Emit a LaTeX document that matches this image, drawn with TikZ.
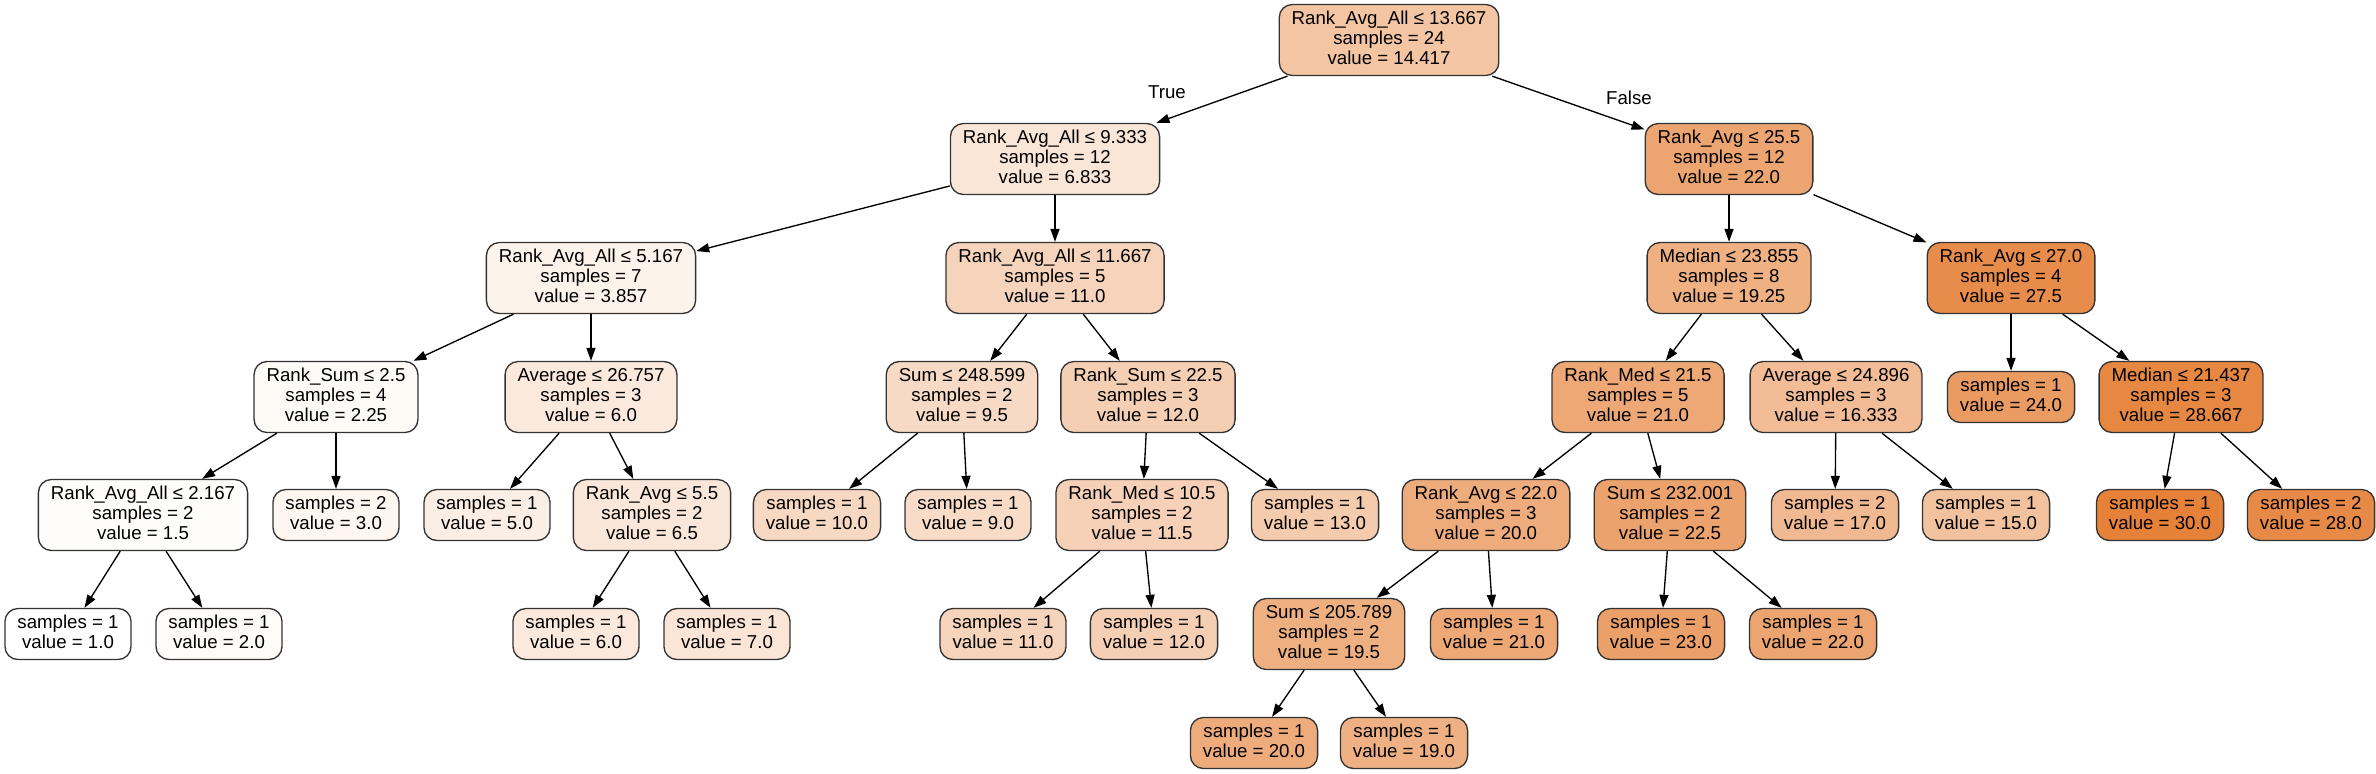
\documentclass[tikz,border=0pt]{standalone}
\usepackage{fontspec}
\setmainfont{Liberation Sans}
\usetikzlibrary{arrows.meta}
\definecolor{orng}{RGB}{229,129,57}
\newcommand{\tri}[3]{\strut #1\\#2\\#3\strut}
\newcommand{\duo}[2]{\strut #1\\#2\strut}
\begin{document}
\begin{tikzpicture}[x=0.5pt,y=-0.5pt,
  tn/.style={draw=black!80, line width=0.67pt, rounded corners=6.5pt, align=center,
    inner xsep=6.25pt, inner ysep=0pt, font=\fontsize{9.33}{10}\selectfont},
  split/.style={tn, minimum height=35.5pt},
  leaf/.style={tn, minimum height=25.5pt},
  edge/.style={-{Triangle[length=6.5pt,width=4.5pt]}, line width=0.67pt},
  lbl/.style={font=\fontsize{9.33}{10}\selectfont, inner sep=0pt}]
\useasboundingbox (0,0) rectangle (2376,773);
% level 0
\node[split, fill=orng!46.3] (root) at (1389,40) {\tri{Rank\_Avg\_All ≤ 13.667}{samples = 24}{value = 14.417}};
% level 1
\node[split, fill=orng!20.1] (A) at (1055,159) {\tri{Rank\_Avg\_All ≤ 9.333}{samples = 12}{value = 6.833}};
\node[split, fill=orng!72.4] (B) at (1729,159) {\tri{Rank\_Avg ≤ 25.5}{samples = 12}{value = 22.0}};
% level 2
\node[split, fill=orng!9.85] (C) at (591,278) {\tri{Rank\_Avg\_All ≤ 5.167}{samples = 7}{value = 3.857}};
\node[split, fill=orng!34.5] (D) at (1055,278) {\tri{Rank\_Avg\_All ≤ 11.667}{samples = 5}{value = 11.0}};
\node[split, fill=orng!62.9] (E) at (1729,278) {\tri{Median ≤ 23.855}{samples = 8}{value = 19.25}};
\node[split, fill=orng!91.4] (F) at (2011,278) {\tri{Rank\_Avg ≤ 27.0}{samples = 4}{value = 27.5}};
% level 3
\node[split, fill=orng!4.3] (G) at (336,397) {\tri{Rank\_Sum ≤ 2.5}{samples = 4}{value = 2.25}};
\node[split, fill=orng!17.2] (H) at (591,397) {\tri{Average ≤ 26.757}{samples = 3}{value = 6.0}};
\node[split, fill=orng!29.3] (I) at (962,397) {\tri{Sum ≤ 248.599}{samples = 2}{value = 9.5}};
\node[split, fill=orng!37.9] (J) at (1148,397) {\tri{Rank\_Sum ≤ 22.5}{samples = 3}{value = 12.0}};
\node[split, fill=orng!69.0] (K) at (1638,397) {\tri{Rank\_Med ≤ 21.5}{samples = 5}{value = 21.0}};
\node[split, fill=orng!52.9] (L) at (1836,397) {\tri{Average ≤ 24.896}{samples = 3}{value = 16.333}};
\node[leaf, fill=orng!79.3] (M) at (2011,397) {\duo{samples = 1}{value = 24.0}};
\node[split, fill=orng!95.4] (N) at (2181,397) {\tri{Median ≤ 21.437}{samples = 3}{value = 28.667}};
% level 4
\node[split, fill=orng!1.7] (O) at (143,515) {\tri{Rank\_Avg\_All ≤ 2.167}{samples = 2}{value = 1.5}};
\node[leaf, fill=orng!6.9] (P) at (336,515) {\duo{samples = 2}{value = 3.0}};
\node[leaf, fill=orng!13.8] (Q) at (487,515) {\duo{samples = 1}{value = 5.0}};
\node[split, fill=orng!19.0] (R) at (652,515) {\tri{Rank\_Avg ≤ 5.5}{samples = 2}{value = 6.5}};
\node[leaf, fill=orng!31.0] (S) at (817,515) {\duo{samples = 1}{value = 10.0}};
\node[leaf, fill=orng!27.6] (T) at (968,515) {\duo{samples = 1}{value = 9.0}};
\node[split, fill=orng!36.2] (U) at (1142,515) {\tri{Rank\_Med ≤ 10.5}{samples = 2}{value = 11.5}};
\node[leaf, fill=orng!41.4] (V) at (1315,515) {\duo{samples = 1}{value = 13.0}};
\node[split, fill=orng!65.5] (W) at (1486,515) {\tri{Rank\_Avg ≤ 22.0}{samples = 3}{value = 20.0}};
\node[split, fill=orng!74.1] (X) at (1670,515) {\tri{Sum ≤ 232.001}{samples = 2}{value = 22.5}};
\node[leaf, fill=orng!55.2] (Y) at (1835,515) {\duo{samples = 2}{value = 17.0}};
\node[leaf, fill=orng!48.3] (Z) at (1986,515) {\duo{samples = 1}{value = 15.0}};
\node[leaf, fill=orng] (AA) at (2160,515) {\duo{samples = 1}{value = 30.0}};
\node[leaf, fill=orng!93.1] (AB) at (2311,515) {\duo{samples = 2}{value = 28.0}};
% level 5
\node[leaf, fill=white] (a1) at (68,634) {\duo{samples = 1}{value = 1.0}};
\node[leaf, fill=orng!3.4] (a2) at (219,634) {\duo{samples = 1}{value = 2.0}};
\node[leaf, fill=orng!17.2] (r1) at (576,634) {\duo{samples = 1}{value = 6.0}};
\node[leaf, fill=orng!20.7] (r2) at (727,634) {\duo{samples = 1}{value = 7.0}};
\node[leaf, fill=orng!34.5] (u1) at (1003,634) {\duo{samples = 1}{value = 11.0}};
\node[leaf, fill=orng!37.9] (u2) at (1154,634) {\duo{samples = 1}{value = 12.0}};
\node[split, fill=orng!63.8] (w1) at (1329,634) {\tri{Sum ≤ 205.789}{samples = 2}{value = 19.5}};
\node[leaf, fill=orng!69.0] (w2) at (1494,634) {\duo{samples = 1}{value = 21.0}};
\node[leaf, fill=orng!75.9] (x1) at (1661,634) {\duo{samples = 1}{value = 23.0}};
\node[leaf, fill=orng!72.4] (x2) at (1813,634) {\duo{samples = 1}{value = 22.0}};
% level 6
\node[leaf, fill=orng!65.5] (s1) at (1254,743) {\duo{samples = 1}{value = 20.0}};
\node[leaf, fill=orng!62.1] (s2) at (1404,743) {\duo{samples = 1}{value = 19.0}};
% edge labels
\node[lbl] (ltrue) at (1167,92) {True};
\node[lbl] (lfalse) at (1629,98) {False};
% edges
\foreach \p/\c in {root/A, root/B, A/C, A/D, B/E, B/F, C/G, C/H, D/I, D/J, E/K, E/L, F/M, F/N,
  G/O, G/P, H/Q, H/R, I/S, I/T, J/U, J/V, K/W, K/X, L/Y, L/Z, N/AA, N/AB,
  O/a1, O/a2, R/r1, R/r2, U/u1, U/u2, W/w1, W/w2, X/x1, X/x2, w1/s1, w1/s2}
  \draw[edge] (\p) -- (\c);
\end{tikzpicture}
\end{document}
